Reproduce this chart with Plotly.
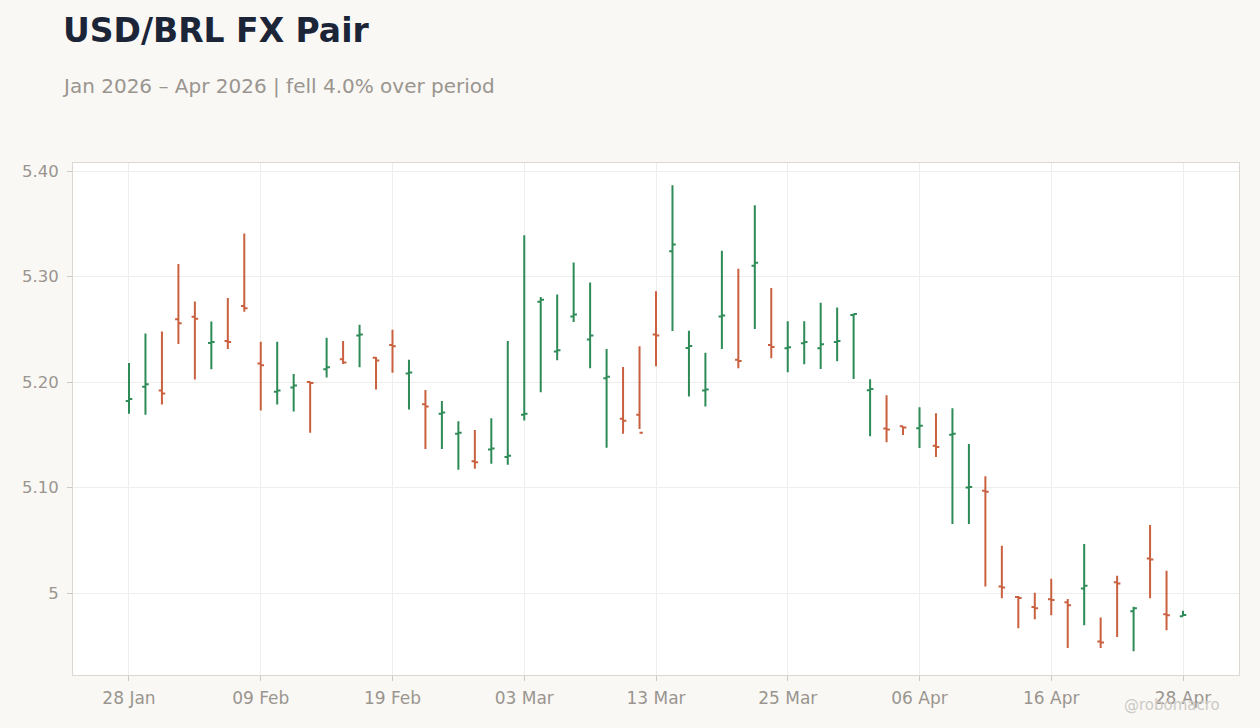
import pandas as pd
import plotly.graph_objects as go

dates = [d.strftime("%Y-%m-%d") for d in pd.bdate_range("2026-01-28", "2026-04-28")]

opens = [5.182, 5.1955, 5.192, 5.2596, 5.2618, 5.237, 5.239, 5.272, 5.2175, 5.1908,
         5.1949, 5.200, 5.2121, 5.2216, 5.244, 5.2229, 5.235, 5.208, 5.179, 5.170,
         5.151, 5.125, 5.136, 5.129, 5.169, 5.276, 5.229, 5.262, 5.2403, 5.2035,
         5.1652, 5.169, 5.245, 5.3239, 5.2322, 5.192, 5.262, 5.221, 5.3102, 5.235,
         5.232, 5.2367, 5.2319, 5.238, 5.2635, 5.1922, 5.156, 5.158, 5.1563, 5.1396,
         5.150, 5.100, 5.097, 5.0063, 4.9962, 4.9868, 4.994, 4.9912, 5.0044, 4.954,
         5.0101, 4.9827, 5.0327, 4.980, 4.978]
highs = [5.218, 5.246, 5.248, 5.3118, 5.2764, 5.2573, 5.2796, 5.3408, 5.2382, 5.2382,
         5.2076, 5.2005, 5.2419, 5.239, 5.2543, 5.2238, 5.2495, 5.221, 5.1924, 5.1819,
         5.1629, 5.1546, 5.1657, 5.239, 5.339, 5.2806, 5.2829, 5.3133, 5.2943, 5.2314,
         5.2142, 5.234, 5.286, 5.3866, 5.2487, 5.2277, 5.3245, 5.3073, 5.3675, 5.2892,
         5.2576, 5.2575, 5.2751, 5.2707, 5.2648, 5.2026, 5.1875, 5.158, 5.1761, 5.1705,
         5.1752, 5.1412, 5.1107, 5.0447, 4.9972, 5.0003, 5.0135, 4.9943, 5.0465, 4.9767,
         5.0164, 4.9871, 5.0645, 5.0211, 4.9833]
lows = [5.170, 5.169, 5.1787, 5.236, 5.2025, 5.2121, 5.2312, 5.2666, 5.1729, 5.1787,
        5.172, 5.152, 5.2044, 5.2171, 5.214, 5.193, 5.2089, 5.174, 5.1365, 5.1365,
        5.1168, 5.1178, 5.1225, 5.1216, 5.1635, 5.1902, 5.2206, 5.2568, 5.213, 5.1378,
        5.151, 5.1555, 5.215, 5.2484, 5.1863, 5.1768, 5.2312, 5.2131, 5.2503, 5.2226,
        5.2092, 5.2168, 5.2124, 5.2196, 5.2029, 5.1487, 5.143, 5.1497, 5.1374, 5.1289,
        5.0655, 5.0655, 5.0063, 4.995, 4.9667, 4.9752, 4.9789, 4.9478, 4.9695, 4.9478,
        4.9582, 4.9447, 4.995, 4.9648, 4.978]
closes = [5.184, 5.1978, 5.1892, 5.2557, 5.2599, 5.238, 5.238, 5.270, 5.2159, 5.192,
          5.1968, 5.199, 5.214, 5.2184, 5.245, 5.2203, 5.234, 5.209, 5.1768, 5.171,
          5.152, 5.124, 5.137, 5.130, 5.170, 5.278, 5.230, 5.264, 5.2441, 5.2051,
          5.1633, 5.152, 5.244, 5.3303, 5.2341, 5.193, 5.263, 5.220, 5.3131, 5.2331,
          5.233, 5.2379, 5.2357, 5.239, 5.2645, 5.1935, 5.155, 5.157, 5.1585, 5.1383,
          5.151, 5.1005, 5.0961, 5.0053, 4.9953, 4.9855, 4.9934, 4.9884, 5.0069, 4.953,
          5.0091, 4.9855, 5.0318, 4.979, 4.9792]

tick_idx = [0, 8, 16, 24, 32, 40, 48, 56, 64]
tick_vals = [dates[i] for i in tick_idx]
tick_text = [pd.Timestamp(d).strftime("%d %b") for d in tick_vals]
y_tickvals = [5.0, 5.1, 5.2, 5.3, 5.4]
y_ticktext = ["5", "5.10", "5.20", "5.30", "5.40"]

GREEN = "#2e8b57"
RED = "#c9603f"
PAPER = "#f9f8f5"
GRAY = "#9a958f"
FONT = "DejaVu Sans"

fig = go.Figure(go.Ohlc(
    x=dates, open=opens, high=highs, low=lows, close=closes,
    increasing=dict(line=dict(color=GREEN, width=2)),
    decreasing=dict(line=dict(color=RED, width=2)),
    tickwidth=0.2, showlegend=False,
))

fig.update_layout(
    width=1260, height=728,
    paper_bgcolor=PAPER, plot_bgcolor="#ffffff",
    margin=dict(l=73, r=21, t=163, b=53),
    font=dict(family=FONT, color=GRAY, size=16),
    title=dict(text="<b>USD/BRL FX Pair</b>", x=63/1260, xref="container", xanchor="left",
               y=1 - 30/728, yref="container", yanchor="middle",
               font=dict(family=FONT, size=33, color="#1b2537")),
    xaxis=dict(type="category", range=[-3.4, 67.4], tickvals=tick_vals, ticktext=tick_text,
               rangeslider=dict(visible=False), showgrid=True, gridcolor="#f0eeeb",
               ticks="outside", ticklen=5, tickcolor="#cfcac4", ticklabelstandoff=3,
               showline=True, mirror=True, linecolor="#dcd7d1", linewidth=1,
               tickfont=dict(size=17, color=GRAY)),
    yaxis=dict(range=[4.9223, 5.4076], tickvals=y_tickvals, ticktext=y_ticktext,
               showgrid=True, gridcolor="#f0eeeb", zeroline=False,
               ticks="outside", ticklen=5, tickcolor="#cfcac4", ticklabelstandoff=5,
               showline=True, mirror=True, linecolor="#dcd7d1", linewidth=1,
               tickfont=dict(size=16.5, color=GRAY)),
    annotations=[
        dict(text="Jan 2026 – Apr 2026 | fell 4.0% over period", xref="paper", yref="paper",
             x=(60 - 73) / 1166, y=(163 - 86) / 512 + 1, xanchor="left", yanchor="middle",
             showarrow=False, font=dict(family=FONT, size=20, color=GRAY)),
        dict(text="@robomacro", xref="paper", yref="paper",
             x=(1222 - 73) / 1166, y=-(705 - 675) / 512, xanchor="right", yanchor="middle",
             showarrow=False, font=dict(family=FONT, size=15, color="#cdcac5")),
    ],
)

fig.write_html("out.html")
